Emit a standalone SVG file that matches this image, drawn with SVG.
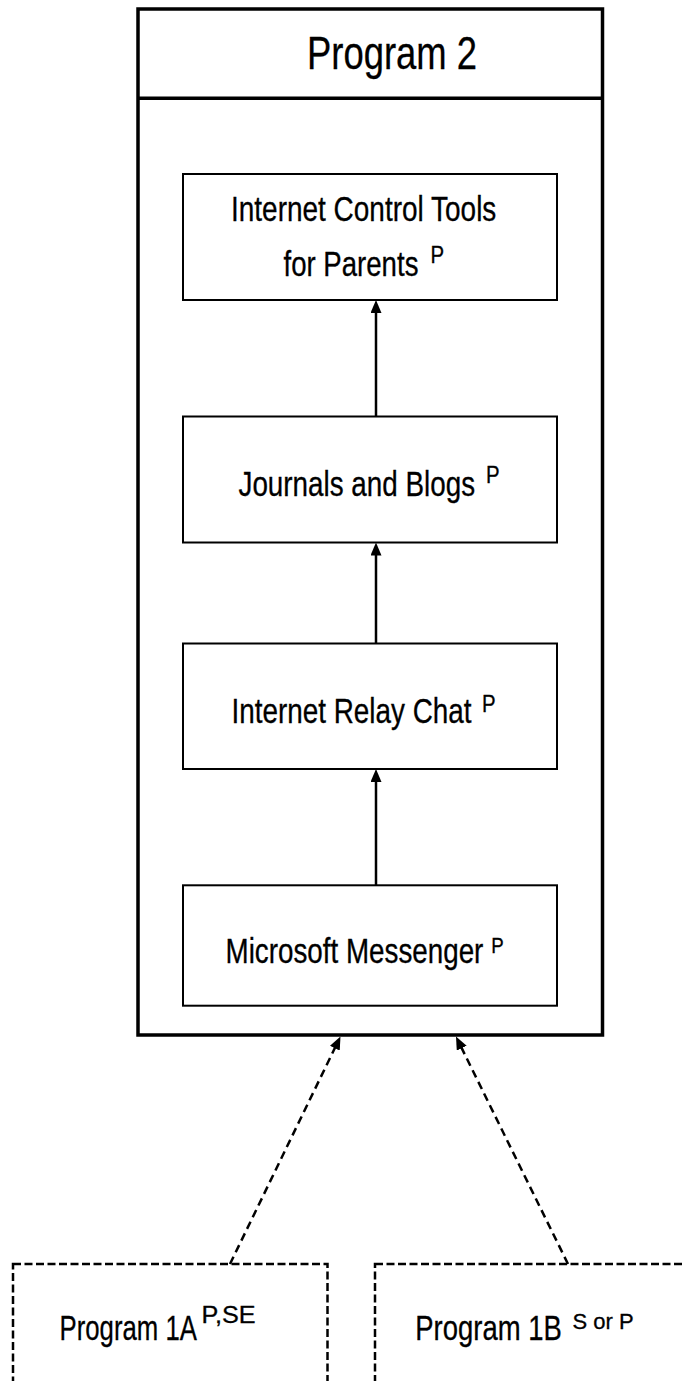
<svg xmlns="http://www.w3.org/2000/svg" width="682" height="1381" viewBox="0 0 682 1381">
  <defs>
    <style>
      .frame { fill: #fff; stroke: #000; stroke-width: 3.5; }
      .rule { stroke: #000; stroke-width: 3.5; }
      .box { fill: #fff; stroke: #000; stroke-width: 2; }
      .dbox { fill: #fff; stroke: #000; stroke-width: 2.5; stroke-dasharray: 8 3.5; }
      .link { fill: none; stroke: #000; stroke-width: 2.5; marker-end: url(#head); }
      .dlink { fill: none; stroke: #000; stroke-width: 2.5; stroke-dasharray: 8 5; marker-end: url(#head); }
      text { font-family: "Liberation Sans", Arial, sans-serif; fill: #000; stroke: #000; stroke-width: 0.3; }
      .title { font-size: 47px; }
      .lbl { font-size: 35px; }
      .sup { font-size: 24px; }
      .sup-s { font-size: 22px; }
    </style>
    <!-- solid arrowhead shared by all connectors -->
    <marker id="head" viewBox="0 0 13 11" refX="3" refY="5.5" markerWidth="13" markerHeight="11" markerUnits="userSpaceOnUse" orient="auto">
      <path d="M0,0 L13,5.5 L0,11 Z" fill="#000" stroke="none"/>
    </marker>
  </defs>

  <rect width="682" height="1381" fill="#fff"/>

  <!-- Program 2 container -->
  <g id="program2">
    <rect class="frame" x="138" y="9" width="464.5" height="1026"/>
    <line class="rule" x1="138" y1="98.3" x2="602.5" y2="98.3"/>
    <text class="title" transform="translate(307,69) scale(0.775,1)">Program 2</text>
  </g>

  <g id="internet-control-tools">
    <rect class="box" x="183" y="174" width="374" height="126"/>
    <text class="lbl" transform="translate(231,221) scale(0.7994,1)">Internet Control Tools</text>
    <text class="lbl" transform="translate(283.5,275.7) scale(0.7886,1)">for Parents</text>
    <text class="sup" transform="translate(430.5,263.3) scale(0.85,1)">P</text>
  </g>

  <g id="journals-blogs">
    <rect class="box" x="183" y="416.5" width="374" height="126"/>
    <text class="lbl" transform="translate(238.5,495.7) scale(0.7947,1)">Journals and Blogs</text>
    <text class="sup" transform="translate(486,483.3) scale(0.85,1)">P</text>
  </g>

  <g id="internet-relay-chat">
    <rect class="box" x="183" y="643.5" width="374" height="125.5"/>
    <text class="lbl" transform="translate(231.5,723.3) scale(0.796,1)">Internet Relay Chat</text>
    <text class="sup" transform="translate(482,711.7) scale(0.85,1)">P</text>
  </g>

  <g id="microsoft-messenger">
    <rect class="box" x="183" y="885.3" width="374" height="120.4"/>
    <text class="lbl" transform="translate(225.5,963.3) scale(0.794,1)">Microsoft Messenger</text>
    <text class="sup-s" transform="translate(491.2,952.7) scale(0.85,1)">P</text>
  </g>

  <g id="program1a">
    <rect class="dbox" x="13" y="1264" width="314.5" height="200"/>
    <text class="lbl" transform="translate(59.5,1340) scale(0.736,1)">Program 1A</text>
    <text class="sup" transform="translate(201.5,1323.3) scale(1.05,1)">P,SE</text>
  </g>

  <g id="program1b">
    <rect class="dbox" x="375" y="1264" width="400" height="200"/>
    <text class="lbl" transform="translate(415.3,1340) scale(0.785,1)">Program 1B</text>
    <text class="sup-s" transform="translate(572.5,1329.3)">S or P</text>
  </g>

  <!-- connectors -->
  <g id="connectors">
    <line class="link" x1="376" y1="416.5" x2="376" y2="310"/>
    <line class="link" x1="376" y1="643.5" x2="376" y2="552.5"/>
    <line class="link" x1="376" y1="885.3" x2="376" y2="779"/>
    <line class="dlink" x1="230" y1="1264" x2="336.1" y2="1045.5"/>
    <line class="dlink" x1="568" y1="1264" x2="460.4" y2="1045.5"/>
  </g>
</svg>
